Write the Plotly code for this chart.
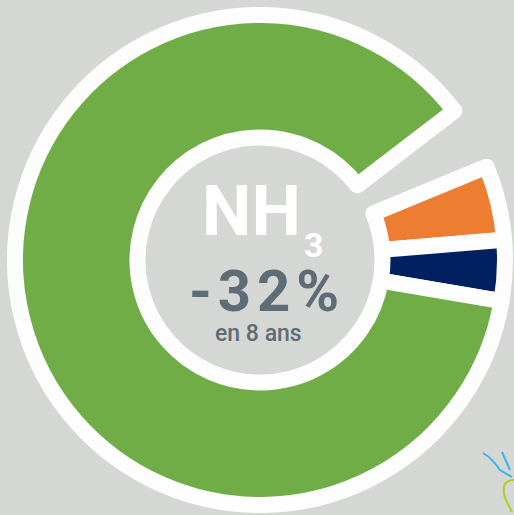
import plotly.graph_objects as go

# Data (percent shares of the ring)
categories = ["spacer", "Orange", "Navy", "Green"]
values = [4.2, 4.9, 4.0, 86.9]
slice_colors = ["rgba(0,0,0,0)", "#ED7D31", "#002060", "#70AD47"]
line_colors = ["rgba(0,0,0,0)", "#FDFDFD", "#FDFDFD", "#FDFDFD"]
line_widths = [0, 16, 16, 16]

title_main = "NH"
title_sub = "3"
big_value = "-32%"
caption = "en 8 ans"

W, H = 514, 515
BG = "#D5D7D4"

cx, cy, R = 260, 260, 245

fig = go.Figure()
fig.add_trace(go.Pie(
    labels=categories,
    values=values,
    sort=False,
    direction="clockwise",
    rotation=52.5,
    hole=0.5,
    marker=dict(colors=slice_colors, line=dict(color=line_colors, width=line_widths)),
    textinfo="none",
    hoverinfo="skip",
    showlegend=False,
    domain=dict(x=[(cx - R) / W, (cx + R) / W], y=[1 - (cy + R) / H, 1 - (cy - R) / H]),
))

def px(x):
    return x / W

def py(y):
    return 1 - y / H

ann = [
    dict(text=f"<b>{title_main}</b>", x=px(251), y=py(211), font=dict(family="Roboto", size=70, color="#FFFFFF")),
    dict(text=f"<b>{title_sub}</b>", x=px(314), y=py(245), font=dict(family="Roboto", size=34, color="#FFFFFF")),
    dict(text="<b>" + "\u200a".join(big_value) + "</b>", x=px(264), y=py(291), font=dict(family="Roboto", size=58, color="#5F6B75")),
    dict(text=caption, x=px(258), y=py(333), font=dict(family="Roboto", size=23, color="#5F6B75", weight=500)),
]
for a in ann:
    a.update(xref="paper", yref="paper", xanchor="center", yanchor="middle", showarrow=False)

fig.update_layout(
    width=W, height=H,
    margin=dict(l=0, r=0, t=0, b=0),
    paper_bgcolor=BG, plot_bgcolor=BG,
    annotations=ann,
    shapes=[
        dict(type="path", xref="paper", yref="paper",
             path=f"M {px(483)} {py(453)} Q {px(492)} {py(458)} {px(500)} {py(470)} L {px(512)} {py(477)}",
             line=dict(color="#35B6E6", width=2)),
        dict(type="path", xref="paper", yref="paper",
             path=f"M {px(502)} {py(452)} L {px(510)} {py(470)}",
             line=dict(color="#35B6E6", width=2)),
        dict(type="path", xref="paper", yref="paper",
             path=f"M {px(514)} {py(480)} Q {px(500)} {py(480)} {px(505)} {py(498)} L {px(512)} {py(512)}",
             line=dict(color="#B5CC18", width=2)),
    ],
)

post = """
document.body.style.margin='0';
document.body.style.background='#D5D7D4';
document.querySelectorAll('.slice path.surface').forEach(function(p){p.style.strokeLinejoin='round';});
"""
fig.write_html("out.html", post_script=post, config={"displayModeBar": False})
